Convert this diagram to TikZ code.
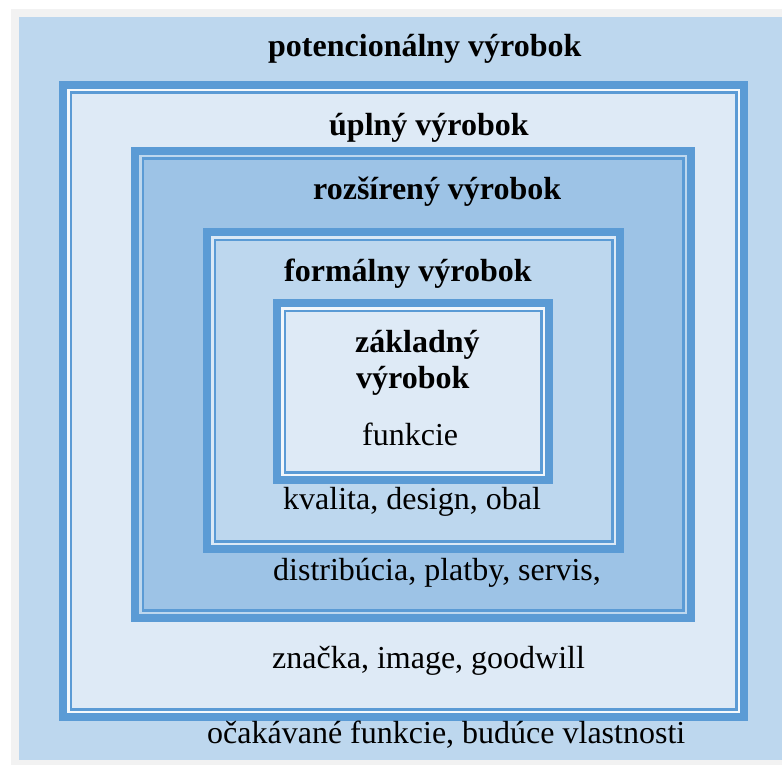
\documentclass[tikz,border=0pt]{standalone}
\usepackage{fontspec}
\setmainfont{Liberation Serif}
\definecolor{frameGray}{HTML}{F2F2F2}
\definecolor{lineBlue}{HTML}{5B9BD5}
\definecolor{midBlue}{HTML}{BDD7EE}
\definecolor{paleBlue}{HTML}{DEEAF6}
\definecolor{deepBlue}{HTML}{9DC3E6}
\tikzset{
  lbl/.style={inner sep=0pt, anchor=base west, font=\fontsize{32}{36}\selectfont},
  title/.style={lbl, font=\fontsize{32}{36}\selectfont\bfseries},
}
% nested box: thick rim, light gap, thin line, then the fill
\newcommand{\layerbox}[6]{%
  \fill[lineBlue] (#1,#2) rectangle (#3,#4);
  \fill[#5] ({#1+8},{#2+8}) rectangle ({#3-8},{#4-8});
  \fill[lineBlue] ({#1+10.5},{#2+10.5}) rectangle ({#3-10.5},{#4-10.5});
  \fill[#6] ({#1+13},{#2+13}) rectangle ({#3-13},{#4-13});
}
\begin{document}
\begin{tikzpicture}[x=1pt, y=-1pt]
\useasboundingbox (0,0) rectangle (782,765);
\fill[white] (0,0) rectangle (782,765);
\fill[frameGray] (11,9) rectangle (782,765);
\fill[midBlue] (19,17) rectangle (782,760);

\layerbox{59}{81}{748}{721}{white!70!paleBlue}{paleBlue}
\layerbox{131}{147}{695}{622}{midBlue}{deepBlue}
\layerbox{203}{228}{624}{553}{white!45!midBlue}{midBlue}
\layerbox{273}{299}{553}{484}{white!60!paleBlue}{paleBlue}

\node[title] (potential) at (268,57) {potencionálny výrobok};
\node[title] (augmented) at (329,136) {úplný výrobok};
\node[title] (expected) at (313,200) {rozšírený výrobok};
\node[title] (formal) at (284,281) {formálny výrobok};
\node[title] (coreA) at (355,352) {základný};
\node[title] (coreB) at (356,388) {výrobok};
\node[lbl] (coreText) at (362,445) {funkcie};
\node[lbl] (formalText) at (283,509) {kvalita, design, obal};
\node[lbl] (expectedText) at (273,580) {distribúcia, platby, servis,};
\node[lbl] (augmentedText) at (272,668) {značka, image, goodwill};
\node[lbl] (potentialText) at (207,743) {očakávané funkcie, budúce vlastnosti};
\end{tikzpicture}
\end{document}
